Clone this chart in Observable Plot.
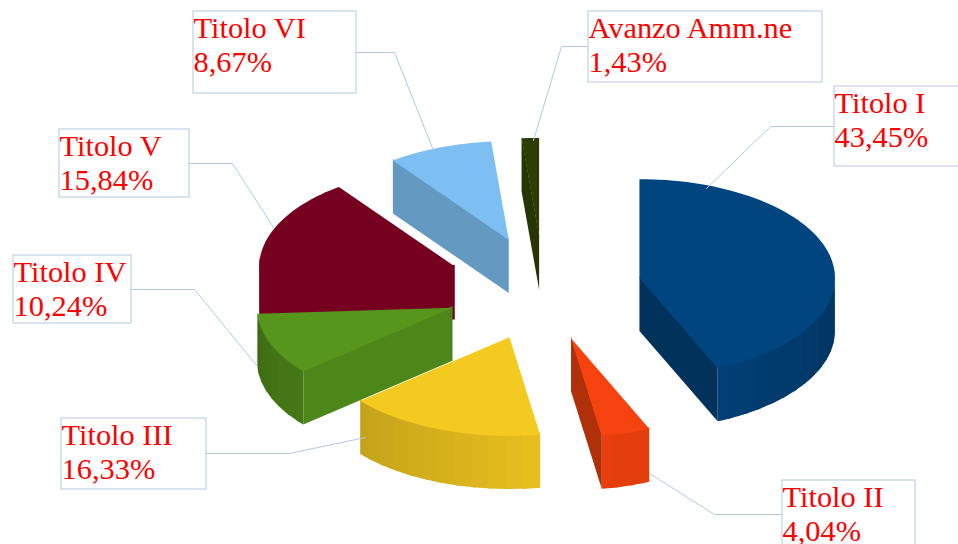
<!DOCTYPE html>
<html>
<head>
<meta charset="utf-8">
<style>html,body{margin:0;padding:0;background:#fff;overflow:hidden}svg{display:block}</style>
<script src="https://cdn.jsdelivr.net/npm/d3@7"></script>
<script src="https://cdn.jsdelivr.net/npm/@observablehq/plot@0.6"></script>
</head>
<body>
<div id="chart"></div>
<script>
const categories = ["Titolo I","Titolo II","Titolo III","Titolo IV","Titolo V","Titolo VI","Avanzo Amm.ne"];
const shares = [43.45,4.04,16.33,10.24,15.84,8.67,1.43];
const topColors = ["#014580","#f5420e","#f4c920","#57961c","#750020","#7dbff2","#2f3d04"];
const edgeShades = [0.72,0.72,0.9,0.9,1,0.8,0.85];
const paintOrder = [6,5,4,0,3,1,2];

// Label layout (page pixels)
const boxLeft   = [834,782,61,13,59,193,588];
const boxRight  = [975,915,206,131,189,356,822];
const boxTop    = [86,480,418,255,129,11,11];
const boxBottom = [166,560,489,323,197,93,82];
const elbowX = [770,714,289,194,232,394,561];
const elbowY = [126,514,453,289,163,52,46];
const tipX   = [706,649,365,257,273,433,533];
const tipY   = [188,473,437,366,227,150,140];

// Pie layout
const cx = 543, cy = 288, R = 195.5, explode = 98, apexTilt = 0.53, rimTilt = 0.505, depth = 53;

const rad = d => d * Math.PI / 180;
const total = d3.sum(shares);
let acc = 0;
const slices = shares.map((s, i) => {
  const a = acc / total * 360; acc += s;
  const b = acc / total * 360, m = (a + b) / 2;
  return {i, a, b, ax: cx + explode * Math.sin(rad(m)), ay: cy - explode * apexTilt * Math.cos(rad(m))};
});
const rimX = (s, t) => s.ax + R * Math.sin(rad(t));
const rimY = (s, t) => s.ay - R * rimTilt * Math.cos(rad(t));
const shadeColor = (c, f) => { const k = d3.rgb(c); return d3.rgb(k.r * f, k.g * f, k.b * f).formatHex(); };
const rimShade = t => 0.95 - 0.0025 * Math.abs(t - 170);

const polys = [];
let pid = 0;
const add = (pts, color) => {
  const id = pid++;
  [...pts, pts[0]].forEach(([x, y]) => polys.push({id, x, y, color}));
};
const lap = 1.5;
for (const idx of paintOrder) {
  const s = slices[idx], col = topColors[idx];
  const arc = d3.range(s.a, s.b, 2).concat([s.b]);
  // outer wall, painted as soft vertical bands; each band laps over the last one painted
  const bandW = 5;
  for (let t0 = s.b; t0 > s.a; t0 -= bandW) {
    const t1 = Math.max(s.a, t0 - bandW), tm = (t0 + t1) / 2;
    if (Math.cos(rad(tm)) > 0.1) continue;
    const hi = Math.min(s.b, t0 + 1.5);
    const upper = d3.range(t1, hi, 1).concat([hi]);
    const f = idx === 4 ? 1 : rimShade(tm);
    add([
      ...upper.map(t => [rimX(s, t), rimY(s, t) - lap]),
      ...upper.slice().reverse().map(t => [rimX(s, t), rimY(s, t) + depth])
    ], shadeColor(col, f));
  }
  // radial walls that face the viewer
  for (const [t, n] of [[s.a, s.a - 90], [s.b, s.b + 90]]) {
    if (Math.cos(rad(n)) < -0.001) {
      add([[s.ax, s.ay - lap], [rimX(s, t), rimY(s, t) - lap], [rimX(s, t), rimY(s, t) + depth], [s.ax, s.ay + depth]],
          shadeColor(col, edgeShades[idx]));
    }
  }
  // top
  add([[s.ax, s.ay], ...arc.map(t => [rimX(s, t), rimY(s, t)])], col);
}

const labelRows = categories.map((c, i) => ({
  text: c + "\n" + shares[i].toFixed(2).replace(".", ",") + "%",
  x1: boxLeft[i], x2: boxRight[i], y1: boxTop[i], y2: boxBottom[i]
}));
const leaders = categories.flatMap((c, i) => [
  {i, x: boxLeft[i] > elbowX[i] ? boxLeft[i] : boxRight[i], y: elbowY[i]},
  {i, x: elbowX[i], y: elbowY[i]},
  {i, x: tipX[i], y: tipY[i]}
]);
const lineColor = "#b4c7e7";

const chart = Plot.plot({
  width: 958, height: 544,
  margin: 0,
  x: {domain: [0, 958], range: [0, 958], axis: null},
  y: {domain: [0, 544], range: [0, 544], axis: null},
  color: {type: "identity"},
  style: {background: "#fff"},
  marks: [
    Plot.line(polys, {x: "x", y: "y", z: "id", fill: "color", curve: "linear"}),
    Plot.line(leaders, {x: "x", y: "y", z: "i", stroke: lineColor, strokeWidth: 1}),
    Plot.rect(labelRows, {x1: "x1", x2: "x2", y1: "y1", y2: "y2", stroke: lineColor, strokeWidth: 1, fill: "#fff"}),
    Plot.text(labelRows, {
      x: "x1", y: "y1", text: "text", textAnchor: "start", lineAnchor: "top", dy: 2,
      lineHeight: 1.118, fontFamily: "'Liberation Serif'", fontSize: 30.4, fill: "#ff0000"
    })
  ]
});
document.getElementById("chart").append(chart);
</script>
</body>
</html>
